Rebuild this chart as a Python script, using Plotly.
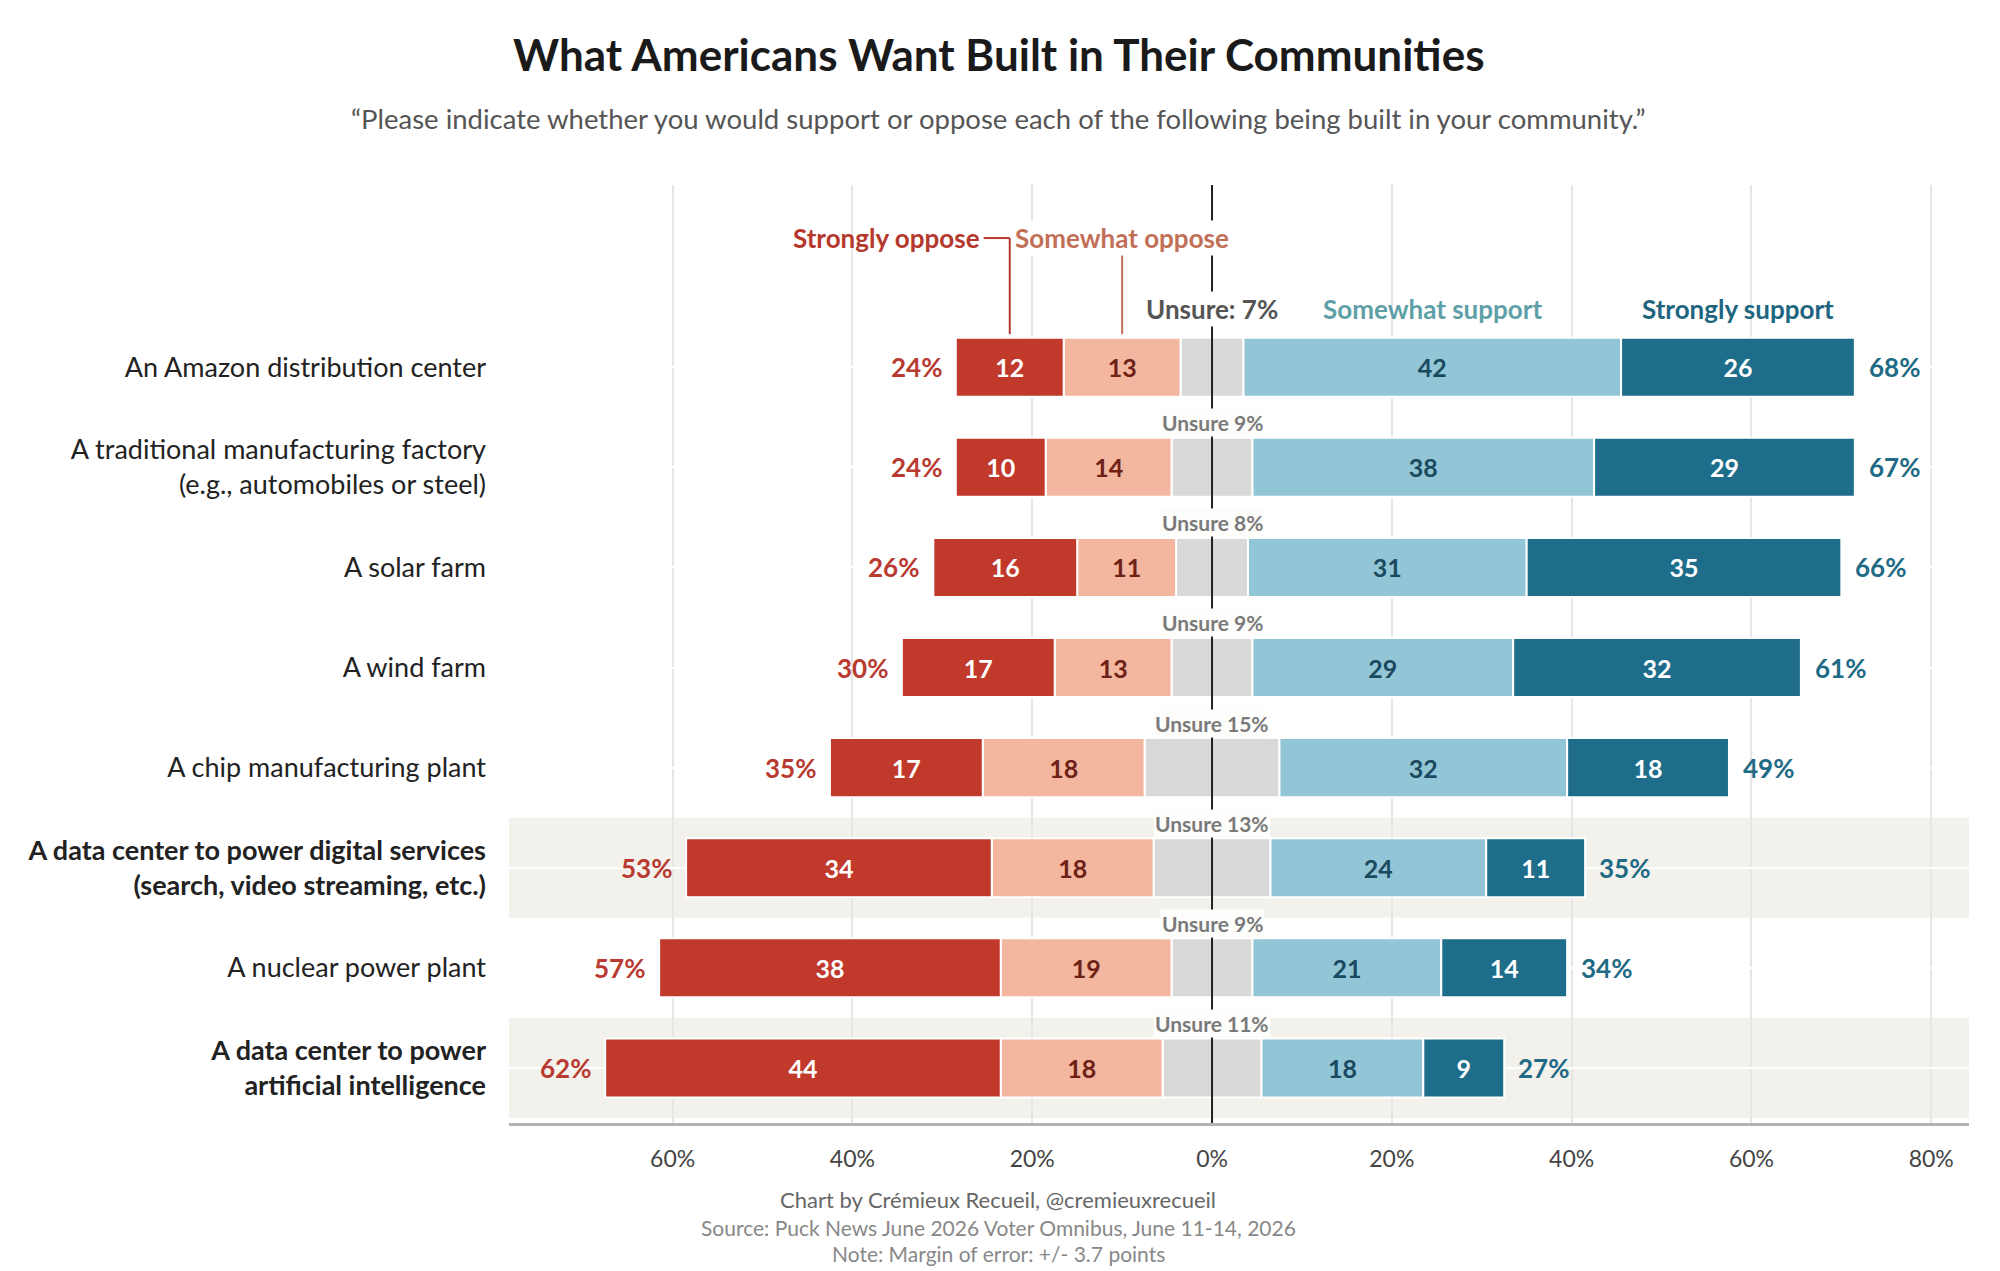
import plotly.graph_objects as go

# survey rows, top to bottom
labels = ["An Amazon distribution center",
          "A traditional manufacturing factory<br>(e.g., automobiles or steel)",
          "A solar farm",
          "A wind farm",
          "A chip manufacturing plant",
          "<b>A data center to power digital services</b><br><b>(search, video streaming, etc.)</b>",
          "A nuclear power plant",
          "<b>A data center to power</b><br><b>artificial intelligence</b>"]
strong_oppose = [12, 10, 16, 17, 17, 34, 38, 44]
some_oppose = [13, 14, 11, 13, 18, 18, 19, 18]
unsure = [7, 9, 8, 9, 15, 13, 9, 11]
some_support = [42, 38, 31, 29, 32, 24, 21, 18]
strong_support = [26, 29, 35, 32, 18, 11, 14, 9]
oppose_total = [24, 24, 26, 30, 35, 53, 57, 62]
support_total = [68, 67, 66, 61, 49, 35, 34, 27]
highlight = [5, 7]
tick_vals = [-60, -40, -20, 0, 20, 40, 60, 80]
tick_text = ["60%", "40%", "20%", "0%", "20%", "40%", "60%", "80%"]

FONT = "Source Sans Pro, Lato, sans-serif"
C_SO, C_WO, C_UN, C_WS, C_SS = "#c1392b", "#f3b7a0", "#d9d9d9", "#92c6d6", "#1d6d8b"
BEIGE = "#f3f1eb"

rows = list(range(len(labels)))
half = [u / 2 for u in unsure]

fig = go.Figure()

def add_bar(vals, color, txt=None, txtcolor="white"):
    fig.add_trace(go.Bar(
        x=vals, y=rows, orientation="h", width=0.59,
        marker=dict(color=color, line=dict(color="white", width=2)),
        text=txt, texttemplate="<b>%{text}</b>" if txt else None,
        textposition="inside" if txt else "none", insidetextanchor="middle",
        textangle=0, constraintext="none",
        textfont=dict(family=FONT, size=25, color=txtcolor),
        hoverinfo="skip", showlegend=False))

# negative side stacks outward from zero
add_bar([-h for h in half], C_UN)
add_bar([-v for v in some_oppose], C_WO, some_oppose, "#6e2116")
add_bar([-v for v in strong_oppose], C_SO, strong_oppose, "white")
add_bar(half, C_UN)
add_bar(some_support, C_WS, some_support, "#1a4a60")
add_bar(strong_support, C_SS, strong_support, "white")

shapes = []
for r in highlight:
    shapes.append(dict(type="rect", xref="x domain", x0=0, x1=1, yref="y",
                       y0=r - 0.5, y1=min(r + 0.5, 7.55), fillcolor=BEIGE,
                       line_width=0, layer="below"))
shapes.append(dict(type="line", x0=0, x1=0, yref="paper", y0=0, y1=1,
                   line=dict(color="#222", width=2), layer="above"))

# header connectors to first bar
so_mid = -(half[0] + some_oppose[0] + strong_oppose[0] / 2)
wo_mid = -(half[0] + some_oppose[0] / 2)
shapes.append(dict(type="line", x0=-25.4, x1=so_mid, y0=-1.29, y1=-1.29,
                   line=dict(color="#b5382c", width=2)))
shapes.append(dict(type="line", x0=so_mid, x1=so_mid, y0=-1.29, y1=-0.33,
                   line=dict(color="#b5382c", width=2)))
shapes.append(dict(type="line", x0=wo_mid, x1=wo_mid, y0=-1.12, y1=-0.33,
                   line=dict(color="#c26f58", width=2)))

ann = []
for i in rows:
    left = -(half[i] + some_oppose[i] + strong_oppose[i])
    right = half[i] + some_support[i] + strong_support[i]
    ann.append(dict(x=left, y=i, text=f"<b>{oppose_total[i]}%</b>", showarrow=False,
                    xanchor="right", xshift=-12,
                    font=dict(family=FONT, size=26, color="#b83a30")))
    ann.append(dict(x=right, y=i, text=f"<b>{support_total[i]}%</b>", showarrow=False,
                    xanchor="left", xshift=12,
                    font=dict(family=FONT, size=26, color="#1f6a85")))
    if i > 0:
        ann.append(dict(x=0, y=i - 0.445, text=f"<b>Unsure {unsure[i]}%</b>",
                        showarrow=False, bgcolor="#fdfdfb", borderpad=1,
                        font=dict(family=FONT, size=21, color="#7a7a7a")))

ss_mid = half[0] + some_support[0] + strong_support[0] / 2
ws_mid = half[0] + some_support[0] / 2
ann += [
    dict(x=-25.6, y=-1.29, text="<b>Strongly oppose</b>", xanchor="right", showarrow=False,
         font=dict(family=FONT, size=26, color="#b5382c")),
    dict(x=wo_mid, y=-1.29, text="<b>Somewhat oppose</b>", showarrow=False, bgcolor="white",
         font=dict(family=FONT, size=26, color="#c26f58")),
    dict(x=0, y=-0.585, text=f"<b>Unsure: {unsure[0]}%</b>", showarrow=False, bgcolor="white",
         font=dict(family=FONT, size=26, color="#555555")),
    dict(x=ws_mid, y=-0.585, text="<b>Somewhat support</b>", showarrow=False,
         font=dict(family=FONT, size=26, color="#5e9fa8")),
    dict(x=ss_mid, y=-0.585, text="<b>Strongly support</b>", showarrow=False,
         font=dict(family=FONT, size=26, color="#1e6680")),
]
head = [
    (1.140, "<b>What Americans Want Built in Their Communities</b>", 44, "#1a1a1a"),
    (1.071, "\u201cPlease indicate whether you would support or oppose each of the following being built in your community.\u201d", 27.5, "#555555"),
    (-0.082, "Chart by Crémieux Recueil, @cremieuxrecueil", 22, "#666666"),
    (-0.111, "Source: Puck News June 2026 Voter Omnibus, June 11-14, 2026", 21, "#888888"),
    (-0.1386, "Note: Margin of error: +/- 3.7 points", 21, "#888888"),
]
for yy, txt, sz, col in head:
    ann.append(dict(xref="paper", yref="paper", x=0.335, y=yy, text=txt,
                    xanchor="center", yanchor="middle", showarrow=False,
                    font=dict(family=FONT, size=sz, color=col)))

# page body adds 8px offset, so the figure is a little smaller
fig.update_layout(
    width=1992, height=1263, barmode="relative",
    margin=dict(l=501, r=31, t=177, b=148),
    paper_bgcolor="white", plot_bgcolor="white",
    shapes=shapes, annotations=ann,
    font=dict(family=FONT),
)
fig.update_xaxes(range=[-78.2, 84.2], tickvals=tick_vals, ticktext=tick_text,
                 showgrid=True, gridcolor="#e6e6e6", gridwidth=1.5, zeroline=False,
                 showline=True, linecolor="#b3b3b3", linewidth=3, ticks="",
                 ticklabelstandoff=13,
                 tickfont=dict(family=FONT, size=23, color="#444444"))
fig.update_yaxes(range=[7.55, -1.82], tickvals=rows, ticktext=labels,
                 showgrid=True, gridcolor="white", gridwidth=2, zeroline=False,
                 ticks="", ticklabelstandoff=22,
                 tickfont=dict(family=FONT, size=27, color="#222222"))

fig.write_html("out.html")
